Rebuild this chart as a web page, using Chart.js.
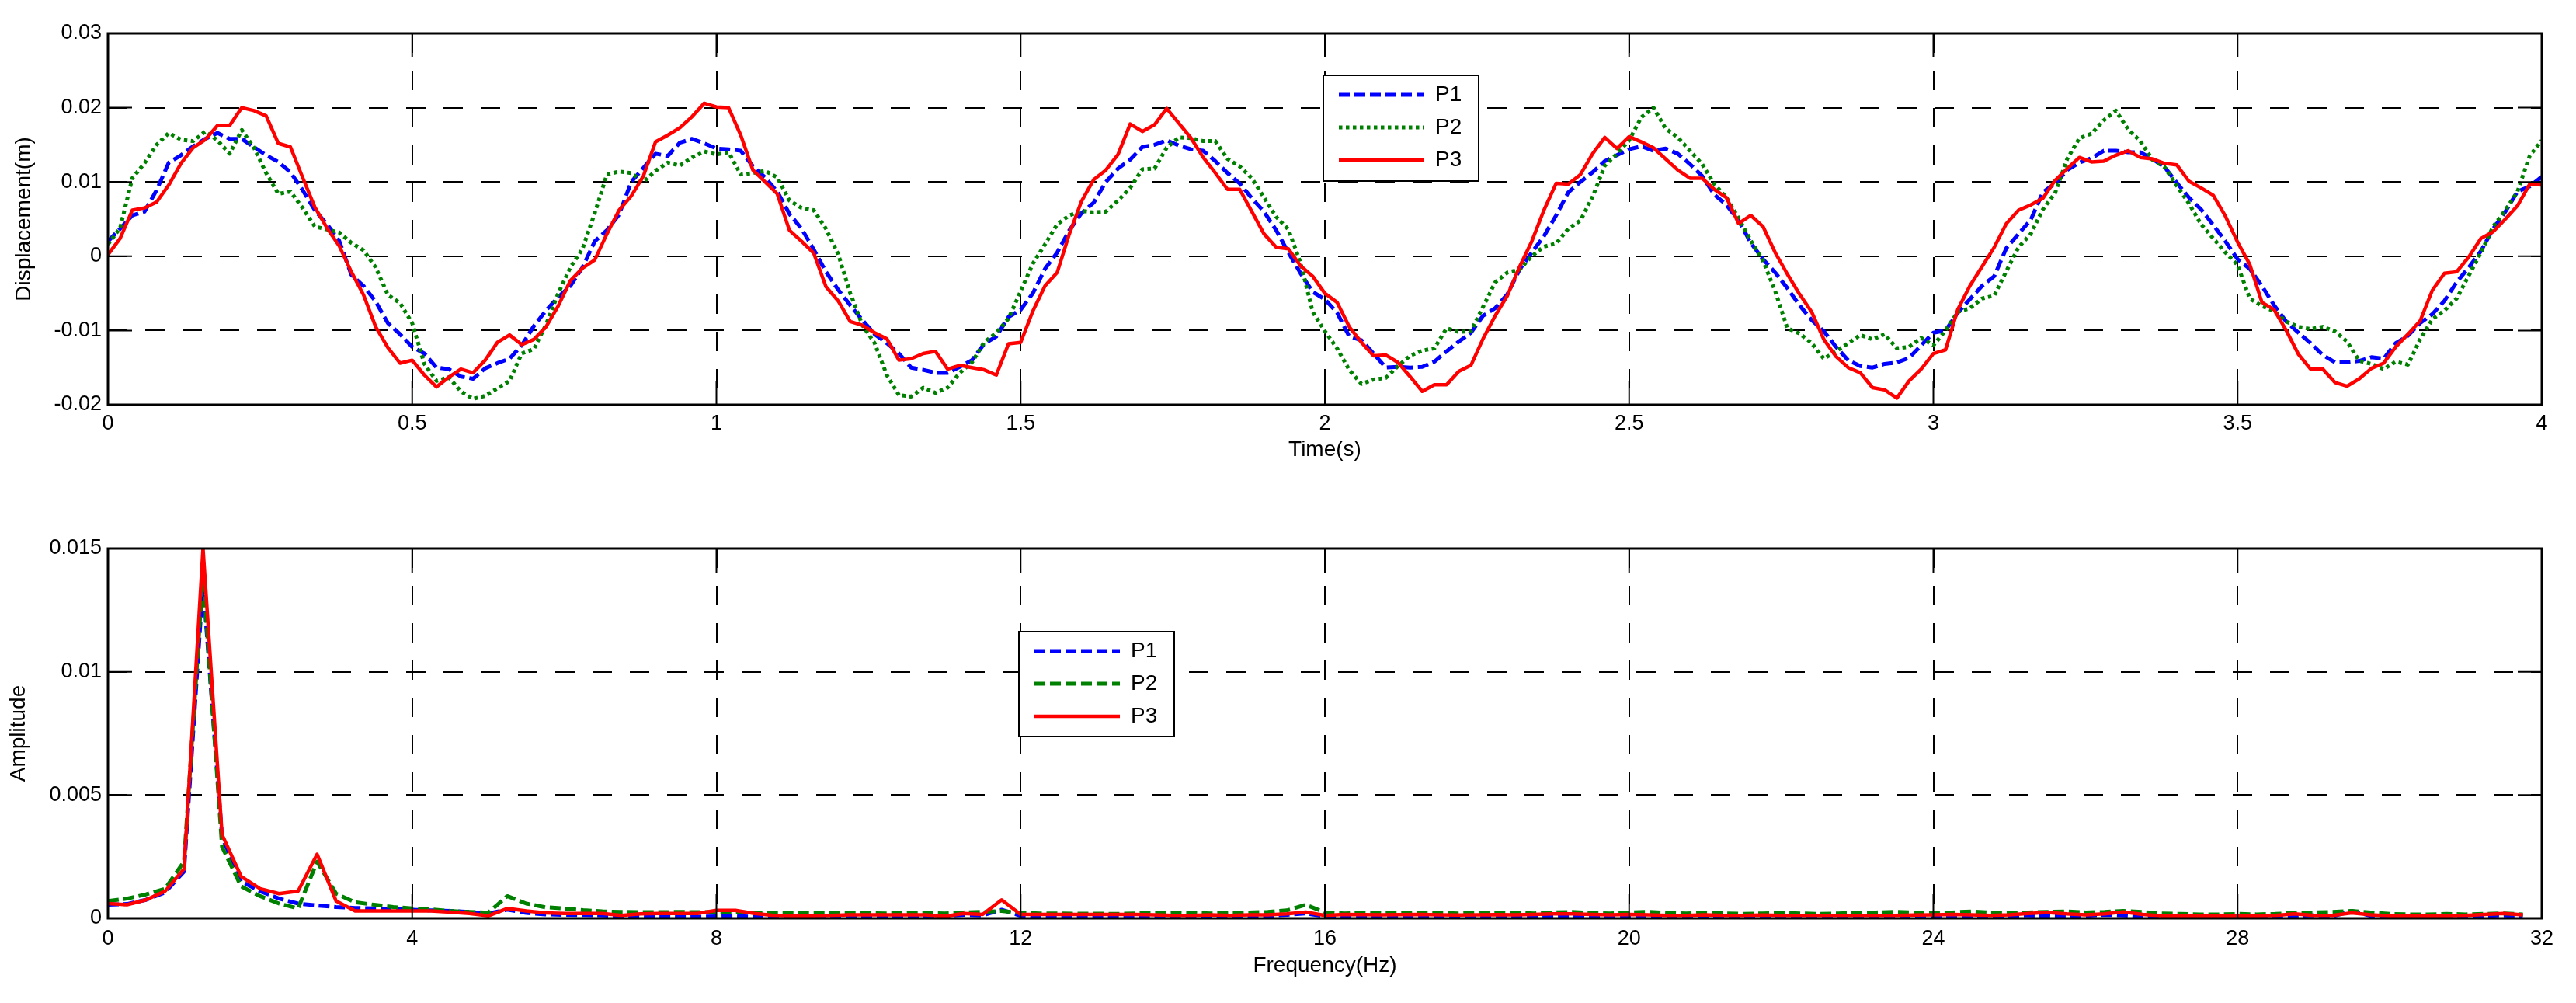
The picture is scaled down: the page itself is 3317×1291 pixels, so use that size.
<!DOCTYPE html>
<html>
<head>
<meta charset="utf-8">
<script src="https://cdn.jsdelivr.net/npm/chart.js@4.4.1/dist/chart.umd.min.js"></script>
<style>
  html, body { margin: 0; padding: 0; background: #fff; }
  #wrap { position: relative; width: 3317px; height: 1291px; }
  canvas { position: absolute; left: 0; }
</style>
</head>
<body>
<div id="wrap">
  <canvas id="timeChart" width="3317" height="640" style="top:0;width:3317px;height:640px"></canvas>
  <canvas id="freqChart" width="3317" height="651" style="top:640px;width:3317px;height:651px"></canvas>
</div>
<script>
// displacement, sampled every 0.02 s from 0 to 4 s
const p1Disp = [
  0.0020, 0.0037, 0.0055, 0.0060, 0.0089, 0.0126, 0.0136, 0.0148, 0.0158, 0.0166,
  0.0158, 0.0158, 0.0147, 0.0136, 0.0127, 0.0113, 0.0089, 0.0062, 0.0043, 0.0021,
  -0.0025, -0.0040, -0.0061, -0.0090, -0.0105, -0.0122, -0.0131, -0.0150, -0.0152, -0.0162,
  -0.0165, -0.0151, -0.0144, -0.0138, -0.0120, -0.0094, -0.0073, -0.0055, -0.0040, -0.0015,
  0.0020, 0.0035, 0.0056, 0.0100, 0.0119, 0.0138, 0.0135, 0.0153, 0.0158, 0.0152,
  0.0145, 0.0144, 0.0142, 0.0121, 0.0106, 0.0087, 0.0057, 0.0037, 0.0009, -0.0021,
  -0.0045, -0.0066, -0.0086, -0.0105, -0.0117, -0.0131, -0.0150, -0.0153, -0.0157, -0.0157,
  -0.0149, -0.0140, -0.0118, -0.0108, -0.0082, -0.0072, -0.0050, -0.0017, 0.0005, 0.0035,
  0.0058, 0.0072, 0.0100, 0.0118, 0.0130, 0.0147, 0.0150, 0.0156, 0.0149, 0.0144,
  0.0142, 0.0128, 0.0112, 0.0098, 0.0078, 0.0060, 0.0035, 0.0005, -0.0023, -0.0048,
  -0.0058, -0.0076, -0.0108, -0.0113, -0.0131, -0.0150, -0.0149, -0.0150, -0.0149, -0.0142,
  -0.0128, -0.0115, -0.0103, -0.0080, -0.0070, -0.0051, -0.0018, 0.0005, 0.0027, 0.0055,
  0.0086, 0.0100, 0.0113, 0.0128, 0.0136, 0.0144, 0.0148, 0.0142, 0.0145, 0.0138,
  0.0124, 0.0108, 0.0083, 0.0069, 0.0048, 0.0018, -0.0004, -0.0022, -0.0043, -0.0066,
  -0.0086, -0.0101, -0.0122, -0.0140, -0.0148, -0.0150, -0.0145, -0.0143, -0.0137, -0.0120,
  -0.0103, -0.0100, -0.0076, -0.0058, -0.0040, -0.0027, 0.0011, 0.0030, 0.0049, 0.0086,
  0.0098, 0.0116, 0.0126, 0.0132, 0.0142, 0.0142, 0.0140, 0.0140, 0.0131, 0.0120,
  0.0099, 0.0079, 0.0063, 0.0042, 0.0020, -0.0004, -0.0017, -0.0040, -0.0066, -0.0088,
  -0.0103, -0.0117, -0.0133, -0.0143, -0.0143, -0.0141, -0.0136, -0.0138, -0.0117, -0.0107,
  -0.0090, -0.0078, -0.0060, -0.0035, -0.0015, 0.0007, 0.0037, 0.0060, 0.0087, 0.0094,
  0.0107
];
const p2Disp = [
  0.0016, 0.0038, 0.0105, 0.0125, 0.0150, 0.0166, 0.0157, 0.0155, 0.0168, 0.0156,
  0.0138, 0.0170, 0.0146, 0.0112, 0.0084, 0.0087, 0.0065, 0.0040, 0.0036, 0.0032,
  0.0018, 0.0008, -0.0015, -0.0052, -0.0063, -0.0090, -0.0145, -0.0168, -0.0163, -0.0182,
  -0.0192, -0.0188, -0.0178, -0.0168, -0.0131, -0.0125, -0.0092, -0.0050, -0.0015, 0.0010,
  0.0058, 0.0110, 0.0114, 0.0112, 0.0100, 0.0115, 0.0126, 0.0122, 0.0133, 0.0141,
  0.0137, 0.0140, 0.0110, 0.0112, 0.0115, 0.0106, 0.0075, 0.0065, 0.0062, 0.0037,
  0.0003, -0.0050, -0.0093, -0.0117, -0.0160, -0.0187, -0.0189, -0.0177, -0.0184, -0.0177,
  -0.0157, -0.0143, -0.0116, -0.0103, -0.0084, -0.0047, -0.0010, 0.0016, 0.0043, 0.0055,
  0.0061, 0.0059, 0.0060, 0.0075, 0.0092, 0.0117, 0.0118, 0.0146, 0.0160, 0.0159,
  0.0155, 0.0155, 0.0131, 0.0121, 0.0105, 0.0079, 0.0053, 0.0036, -0.0009, -0.0075,
  -0.0101, -0.0124, -0.0153, -0.0172, -0.0166, -0.0164, -0.0148, -0.0134, -0.0127, -0.0124,
  -0.0097, -0.0102, -0.0101, -0.0068, -0.0035, -0.0022, -0.0018, 0.0000, 0.0013, 0.0017,
  0.0037, 0.0048, 0.0080, 0.0122, 0.0138, 0.0156, 0.0187, 0.0200, 0.0172, 0.0160,
  0.0142, 0.0124, 0.0097, 0.0079, 0.0051, 0.0021, -0.0006, -0.0047, -0.0097, -0.0104,
  -0.0117, -0.0138, -0.0128, -0.0117, -0.0106, -0.0112, -0.0105, -0.0124, -0.0122, -0.0110,
  -0.0120, -0.0100, -0.0075, -0.0070, -0.0057, -0.0053, -0.0020, 0.0012, 0.0030, 0.0063,
  0.0085, 0.0131, 0.0159, 0.0165, 0.0183, 0.0196, 0.0171, 0.0155, 0.0130, 0.0120,
  0.0095, 0.0071, 0.0043, 0.0024, 0.0005, -0.0012, -0.0057, -0.0067, -0.0074, -0.0088,
  -0.0095, -0.0098, -0.0095, -0.0101, -0.0115, -0.0141, -0.0145, -0.0152, -0.0142, -0.0146,
  -0.0112, -0.0085, -0.0073, -0.0057, -0.0026, 0.0005, 0.0040, 0.0062, 0.0087, 0.0135,
  0.0156
];
const p3Disp = [
  0.0002, 0.0024, 0.0062, 0.0065, 0.0073, 0.0096, 0.0125, 0.0146, 0.0157, 0.0176,
  0.0176, 0.0200, 0.0196, 0.0189, 0.0152, 0.0147, 0.0106, 0.0066, 0.0038, 0.0014,
  -0.0021, -0.0052, -0.0095, -0.0123, -0.0144, -0.0140, -0.0160, -0.0176, -0.0163, -0.0152,
  -0.0157, -0.0140, -0.0116, -0.0106, -0.0119, -0.0112, -0.0095, -0.0067, -0.0033, -0.0016,
  -0.0005, 0.0030, 0.0062, 0.0081, 0.0108, 0.0154, 0.0163, 0.0173, 0.0188, 0.0206,
  0.0201, 0.0200, 0.0163, 0.0116, 0.0100, 0.0084, 0.0035, 0.0020, 0.0004, -0.0041,
  -0.0060, -0.0088, -0.0093, -0.0103, -0.0111, -0.0140, -0.0138, -0.0131, -0.0128, -0.0152,
  -0.0147, -0.0150, -0.0153, -0.0160, -0.0118, -0.0116, -0.0074, -0.0040, -0.0022, 0.0030,
  0.0074, 0.0103, 0.0116, 0.0137, 0.0178, 0.0168, 0.0177, 0.0199, 0.0179, 0.0159,
  0.0133, 0.0112, 0.0090, 0.0090, 0.0060, 0.0030, 0.0012, 0.0010, -0.0013, -0.0027,
  -0.0050, -0.0062, -0.0095, -0.0116, -0.0134, -0.0133, -0.0143, -0.0162, -0.0182, -0.0173,
  -0.0173, -0.0155, -0.0147, -0.0111, -0.0080, -0.0053, -0.0014, 0.0020, 0.0062, 0.0098,
  0.0097, 0.0110, 0.0138, 0.0160, 0.0145, 0.0161, 0.0154, 0.0146, 0.0131, 0.0116,
  0.0105, 0.0105, 0.0090, 0.0079, 0.0044, 0.0055, 0.0040, 0.0005, -0.0024, -0.0051,
  -0.0075, -0.0112, -0.0135, -0.0150, -0.0157, -0.0177, -0.0180, -0.0191, -0.0168, -0.0152,
  -0.0131, -0.0126, -0.0072, -0.0040, -0.0014, 0.0012, 0.0044, 0.0062, 0.0069, 0.0078,
  0.0102, 0.0118, 0.0133, 0.0127, 0.0128, 0.0136, 0.0142, 0.0133, 0.0131, 0.0125,
  0.0123, 0.0101, 0.0092, 0.0082, 0.0054, 0.0019, -0.0011, -0.0062, -0.0072, -0.0100,
  -0.0132, -0.0152, -0.0152, -0.0170, -0.0175, -0.0165, -0.0151, -0.0144, -0.0122, -0.0105,
  -0.0087, -0.0046, -0.0023, -0.0021, -0.0001, 0.0024, 0.0033, 0.0050, 0.0068, 0.0097,
  0.0096
];

// FFT amplitude, bins every 0.25 Hz from 0 to 31.75 Hz
const p1Amp = [
  0.00055, 0.00058, 0.00075, 0.00105, 0.00190, 0.01360, 0.00330, 0.00150, 0.00110, 0.00080,
  0.00060, 0.00052, 0.00046, 0.00042, 0.00040, 0.00038, 0.00035, 0.00032, 0.00030, 0.00026,
  0.00020, 0.00035, 0.00022, 0.00016, 0.00014, 0.00013, 0.00012, 0.00010, 0.00010, 0.00008,
  0.00006, 0.00006, 0.00008, 0.00010, 0.00006, 0.00004, 0.00005, 0.00005, 0.00006, 0.00005,
  0.00006, 0.00005, 0.00006, 0.00008, 0.00010, 0.00014, 0.00012, 0.00035, 0.00010, 0.00006,
  0.00005, 0.00006, 0.00005, 0.00006, 0.00005, 0.00006, 0.00008, 0.00010, 0.00006, 0.00005,
  0.00008, 0.00010, 0.00014, 0.00020, 0.00008, 0.00006, 0.00005, 0.00006, 0.00005, 0.00006,
  0.00005, 0.00006, 0.00006, 0.00005, 0.00006, 0.00005, 0.00008, 0.00010, 0.00008, 0.00006,
  0.00008, 0.00006, 0.00005, 0.00006, 0.00005, 0.00006, 0.00005, 0.00006, 0.00005, 0.00006,
  0.00005, 0.00006, 0.00005, 0.00008, 0.00010, 0.00008, 0.00006, 0.00005, 0.00006, 0.00008,
  0.00010, 0.00012, 0.00010, 0.00008, 0.00010, 0.00014, 0.00012, 0.00006, 0.00005, 0.00005,
  0.00005, 0.00006, 0.00005, 0.00006, 0.00008, 0.00010, 0.00012, 0.00008, 0.00030, 0.00010,
  0.00006, 0.00005, 0.00006, 0.00005, 0.00006, 0.00010, 0.00012, 0.00008
];
const p2Amp = [
  0.00070, 0.00080, 0.00097, 0.00120, 0.00230, 0.01400, 0.00290, 0.00130, 0.00090, 0.00060,
  0.00040, 0.00230, 0.00100, 0.00065, 0.00055, 0.00046, 0.00040, 0.00036, 0.00030, 0.00026,
  0.00023, 0.00090, 0.00060, 0.00045, 0.00040, 0.00033, 0.00028, 0.00026, 0.00025, 0.00025,
  0.00026, 0.00025, 0.00025, 0.00025, 0.00023, 0.00023, 0.00023, 0.00022, 0.00022, 0.00021,
  0.00021, 0.00020, 0.00021, 0.00022, 0.00020, 0.00024, 0.00026, 0.00030, 0.00022, 0.00020,
  0.00020, 0.00019, 0.00019, 0.00018, 0.00020, 0.00021, 0.00024, 0.00022, 0.00020, 0.00023,
  0.00024, 0.00026, 0.00032, 0.00055, 0.00024, 0.00020, 0.00022, 0.00020, 0.00022, 0.00024,
  0.00022, 0.00020, 0.00022, 0.00024, 0.00022, 0.00020, 0.00024, 0.00026, 0.00022, 0.00020,
  0.00024, 0.00026, 0.00022, 0.00020, 0.00022, 0.00020, 0.00018, 0.00020, 0.00022, 0.00020,
  0.00018, 0.00020, 0.00022, 0.00024, 0.00026, 0.00024, 0.00022, 0.00024, 0.00028, 0.00024,
  0.00022, 0.00024, 0.00026, 0.00028, 0.00024, 0.00026, 0.00030, 0.00026, 0.00020, 0.00018,
  0.00016, 0.00016, 0.00018, 0.00016, 0.00018, 0.00022, 0.00024, 0.00026, 0.00030, 0.00024,
  0.00018, 0.00016, 0.00016, 0.00018, 0.00016, 0.00018, 0.00020, 0.00016
];
const p3Amp = [
  0.00060, 0.00055, 0.00075, 0.00110, 0.00200, 0.01500, 0.00340, 0.00170, 0.00120, 0.00100,
  0.00110, 0.00260, 0.00070, 0.00030, 0.00030, 0.00030, 0.00030, 0.00030, 0.00025, 0.00020,
  0.00010, 0.00040, 0.00030, 0.00022, 0.00020, 0.00020, 0.00020, 0.00012, 0.00018, 0.00020,
  0.00020, 0.00020, 0.00032, 0.00032, 0.00020, 0.00012, 0.00010, 0.00010, 0.00012, 0.00014,
  0.00014, 0.00014, 0.00014, 0.00014, 0.00008, 0.00020, 0.00016, 0.00075, 0.00016, 0.00016,
  0.00016, 0.00016, 0.00016, 0.00016, 0.00016, 0.00014, 0.00012, 0.00012, 0.00014, 0.00012,
  0.00014, 0.00014, 0.00018, 0.00025, 0.00012, 0.00016, 0.00015, 0.00014, 0.00015, 0.00016,
  0.00014, 0.00013, 0.00014, 0.00015, 0.00014, 0.00016, 0.00018, 0.00018, 0.00016, 0.00014,
  0.00016, 0.00014, 0.00012, 0.00012, 0.00014, 0.00012, 0.00012, 0.00013, 0.00012, 0.00012,
  0.00012, 0.00012, 0.00012, 0.00012, 0.00012, 0.00013, 0.00014, 0.00016, 0.00014, 0.00012,
  0.00014, 0.00020, 0.00024, 0.00018, 0.00014, 0.00018, 0.00026, 0.00016, 0.00010, 0.00010,
  0.00010, 0.00010, 0.00010, 0.00010, 0.00012, 0.00018, 0.00012, 0.00012, 0.00022, 0.00014,
  0.00010, 0.00010, 0.00010, 0.00010, 0.00012, 0.00016, 0.00020, 0.00014
];

const seriesNames = ['P1', 'P2', 'P3'];
const timeTicks = { min: 0, max: 4, step: 0.5 };
const dispTicks = { min: -0.02, max: 0.03, step: 0.01 };
const freqTicks = { min: 0, max: 32, step: 4 };
const ampTicks = { min: 0, max: 0.015, step: 0.005 };

const time = p1Disp.map((_, i) => +(i * 0.02).toFixed(2));
const freq = p1Amp.map((_, i) => i * 0.25);

Chart.defaults.font.family = '"Liberation Sans", Arial, sans-serif';
Chart.defaults.color = '#000';

function pairs(xs, ys) {
  return xs.map((x, i) => ({ x: x, y: ys[i] }));
}

function fmt(v) {
  return String(+(+v).toFixed(4));
}

// axes frame with inward tick marks, like the original plotting tool
const frame = {
  id: 'frame',
  afterDatasetsDraw(chart) {
    const { ctx, chartArea: a, scales } = chart;
    const len = 31;
    ctx.save();
    ctx.setLineDash([]);
    ctx.strokeStyle = '#000';
    ctx.lineWidth = 2;
    ctx.beginPath();
    scales.x.ticks.forEach(t => {
      const px = scales.x.getPixelForValue(t.value);
      ctx.moveTo(px, a.bottom); ctx.lineTo(px, a.bottom - len);
      ctx.moveTo(px, a.top); ctx.lineTo(px, a.top + len);
    });
    scales.y.ticks.forEach(t => {
      const py = scales.y.getPixelForValue(t.value);
      ctx.moveTo(a.left, py); ctx.lineTo(a.left + len, py);
      ctx.moveTo(a.right, py); ctx.lineTo(a.right - len, py);
    });
    ctx.stroke();
    ctx.lineWidth = 3;
    ctx.strokeRect(a.left, a.top, a.right - a.left, a.bottom - a.top);
    ctx.restore();
  }
};

// boxed legend placed inside the plot area
const boxLegend = {
  id: 'boxLegend',
  afterDraw(chart, args, opts) {
    const { ctx, chartArea } = chart;
    const x = chartArea.left + opts.left;
    const y = chartArea.top + opts.top;
    ctx.save();
    ctx.fillStyle = '#fff';
    ctx.fillRect(x, y, opts.width, opts.height);
    ctx.setLineDash([]);
    ctx.lineWidth = 2;
    ctx.strokeStyle = '#000';
    ctx.strokeRect(x, y, opts.width, opts.height);
    chart.data.datasets.forEach((ds, i) => {
      const ly = y + 25 + i * 42;
      ctx.beginPath();
      ctx.setLineDash(ds.borderDash || []);
      ctx.lineCap = 'butt';
      ctx.lineWidth = ds.borderWidth;
      ctx.strokeStyle = ds.borderColor;
      ctx.moveTo(x + 20, ly);
      ctx.lineTo(x + 130, ly);
      ctx.stroke();
      ctx.setLineDash([]);
      ctx.fillStyle = '#000';
      ctx.font = '28px "Liberation Sans", Arial, sans-serif';
      ctx.textBaseline = 'middle';
      ctx.textAlign = 'left';
      ctx.fillText(ds.label, x + 144, ly);
    });
    ctx.restore();
  }
};

function axis(range, title, titlePad, tickPad, size, horizontal) {
  return {
    type: 'linear',
    min: range.min,
    max: range.max,
    ticks: {
      stepSize: range.step,
      padding: tickPad,
      font: { size: 27 },
      callback: v => fmt(v)
    },
    grid: { color: '#000', lineWidth: 2, drawTicks: false },
    border: { display: false, dash: [25, 23] },
    title: {
      display: true,
      text: title,
      font: { size: 28 },
      padding: horizontal ? { top: 0, bottom: titlePad } : { top: titlePad, bottom: 0 }
    },
    afterFit(scale) {
      if (horizontal) scale.height = size; else scale.width = size;
    }
  };
}

function lineSet(label, data, color, dash, width, order) {
  return {
    label: label,
    data: data,
    borderColor: color,
    backgroundColor: color,
    borderWidth: width,
    borderDash: dash,
    borderCapStyle: 'butt',
    borderJoinStyle: 'round',
    pointRadius: 0,
    tension: 0,
    fill: false,
    order: order
  };
}

new Chart(document.getElementById('timeChart'), {
  type: 'line',
  data: {
    datasets: [
      lineSet(seriesNames[0], pairs(time, p1Disp), '#0000ff', [14, 6], 5, 3),
      lineSet(seriesNames[1], pairs(time, p2Disp), '#008000', [4.5, 4.5], 5, 2),
      lineSet(seriesNames[2], pairs(time, p3Disp), '#ff0000', [], 4.5, 1)
    ]
  },
  options: {
    responsive: false,
    animation: false,
    devicePixelRatio: 1,
    layout: { padding: { top: 43, right: 44, bottom: 0, left: 0 } },
    scales: {
      x: axis(timeTicks, 'Time(s)', 44, 8, 119, true),
      y: axis(dispTicks, 'Displacement(m)', 14, 8, 139, false)
    },
    plugins: {
      legend: { display: false },
      tooltip: { enabled: false },
      boxLegend: { left: 1565, top: 54, width: 200, height: 136 }
    }
  },
  plugins: [frame, boxLegend]
});

new Chart(document.getElementById('freqChart'), {
  type: 'line',
  data: {
    datasets: [
      lineSet(seriesNames[0], pairs(freq, p1Amp), '#0000ff', [14, 6], 5, 3),
      lineSet(seriesNames[1], pairs(freq, p2Amp), '#008000', [14, 6], 5, 2),
      lineSet(seriesNames[2], pairs(freq, p3Amp), '#ff0000', [], 4.5, 1)
    ]
  },
  options: {
    responsive: false,
    animation: false,
    devicePixelRatio: 1,
    layout: { padding: { top: 66, right: 44, bottom: 0, left: 0 } },
    scales: {
      x: axis(freqTicks, 'Frequency(Hz)', 31, 10, 109, true),
      y: axis(ampTicks, 'Amplitude', 7, 8, 139, false)
    },
    plugins: {
      legend: { display: false },
      tooltip: { enabled: false },
      boxLegend: { left: 1173, top: 107, width: 200, height: 135 }
    }
  },
  plugins: [frame, boxLegend]
});
</script>
</body>
</html>
